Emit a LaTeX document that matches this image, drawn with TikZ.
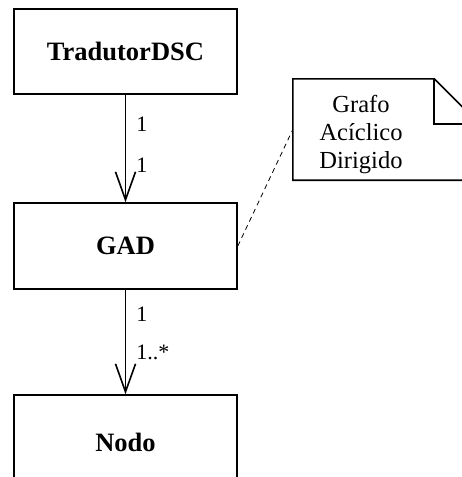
\documentclass[tikz,border=0pt]{standalone}
\usepackage{fontspec}
\setmainfont{Liberation Serif}
\usetikzlibrary{arrows.meta}

\tikzset{
  classbox/.style={draw, line width=1.6pt, minimum width=223pt, minimum height=85pt,
                   inner sep=0pt, font=\fontsize{26.5}{30}\selectfont\bfseries},
  assoc/.style={line width=1.6pt, -{Straight Barb[length=28pt, width=20pt, line width=1.6pt]}},
  mult/.style={anchor=west, inner sep=0pt, xshift=10pt, font=\fontsize{22}{26}\selectfont},
  noteline/.style={line width=1.6pt, line join=miter},
  anchorline/.style={line width=0.8pt, dash pattern=on 5pt off 4pt},
  notetext/.style={align=center, inner sep=0pt, font=\fontsize{24.5}{28}\selectfont}
}

\begin{document}
\begin{tikzpicture}[x=1pt, y=-1pt]
  \useasboundingbox (0,0) rectangle (462,477);
  \clip (0,0) rectangle (462,477);

  % classes
  \node[classbox] (trad) at (125.5,51.5) {TradutorDSC};
  \node[classbox, minimum height=86pt] (gad) at (125.5,246) {GAD};
  \node[classbox, minimum height=94pt] (nodo) at (125.5,442) {Nodo};

  % associations with multiplicities
  \draw[assoc] (trad.south) -- (gad.north)
    node[mult, pos=0.27] {1}
    node[mult, pos=0.66] {1};
  \draw[assoc] (gad.south) -- (nodo.north)
    node[mult, pos=0.23] {1}
    node[mult, pos=0.60] {1..*};

  % note with folded corner (fold size 45pt)
  \node[minimum width=186pt, minimum height=101pt, inner sep=0pt] (note) at (386,129.5) {};
  \coordinate (fold top) at ([xshift=-45pt]note.north east);
  \coordinate (fold side) at ([yshift=-45pt]note.north east);
  \coordinate (fold in) at ([xshift=-45pt, yshift=-45pt]note.north east);
  \draw[noteline] (note.north west) -- (fold top) -- (fold side)
    -- (note.south east) -- (note.south west) -- cycle;
  \draw[noteline] (fold top) -- (fold in) -- (fold side);
  \node[notetext] (notelabel) at (361,135) {Grafo\\Acíclico\\Dirigido};

  % note anchor
  \draw[anchorline] (gad.east) -- (note.west);
\end{tikzpicture}
\end{document}
